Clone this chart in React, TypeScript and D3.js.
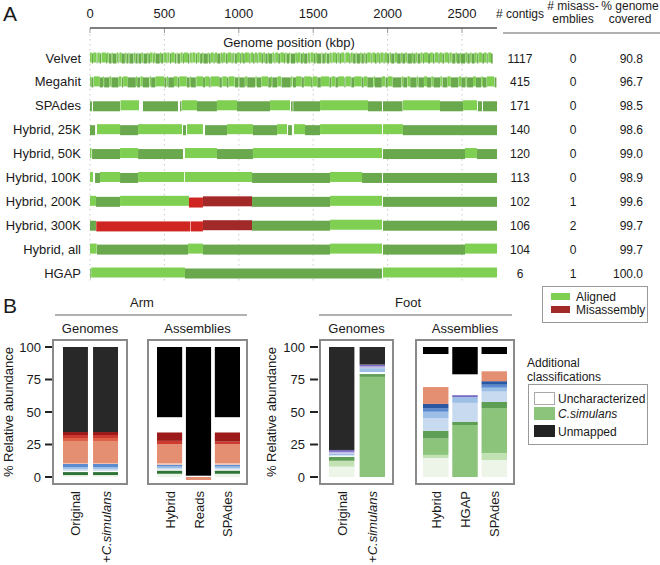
import React from "react";
import * as d3 from "d3";

const FONT = "'Liberation Sans', Arial, Helvetica, sans-serif";

// ---------- Panel A data ----------
const genomeTicks = [0, 500, 1000, 1500, 2000, 2500];
const genomeLengthKbp = 2735;
const assemblyNames = ["Velvet", "Megahit", "SPAdes", "Hybrid, 25K", "Hybrid, 50K", "Hybrid, 100K", "Hybrid, 200K", "Hybrid, 300K", "Hybrid, all", "HGAP"];
const contigCounts = ["1117", "415", "171", "140", "120", "113", "102", "106", "104", "6"];
const misassemblyCounts = ["0", "0", "0", "0", "0", "0", "1", "2", "0", "1"];
const genomeCovered = ["90.8", "96.7", "98.5", "98.6", "99.0", "98.9", "99.6", "99.7", "99.7", "100.0"];

type Seg = [number, number, string];
const L = "L", D = "D", R = "R", X = "X";

const velvetContigLengths = [
  12, 8, 22, 5, 14, 9, 30, 6, 11, 18, 7, 25, 10, 4, 16, 21, 8, 13, 6, 27,
  9, 15, 5, 19, 11, 24, 7, 12, 17, 6, 10, 28, 8, 14, 20, 5, 13, 9, 23, 11,
  6, 18, 15, 7, 26, 10, 12, 4, 21, 9, 16, 13, 8, 30, 6, 11, 19, 7, 14, 22,
  10, 5, 17, 12, 25, 8, 9, 15, 20, 6, 13, 11, 27, 7, 18, 10, 14, 5, 23, 9,
  12, 16, 8, 21, 11, 6, 19, 13, 24, 7, 10, 15, 9, 28, 12, 5, 17, 14, 8, 22,
  11, 6, 20, 13, 9, 26, 7, 16, 10, 18, 12, 5, 23, 8, 14, 11, 19, 6, 25, 9,
  13, 17, 7, 21, 10, 15, 8, 12, 24, 6, 18, 11, 14, 9, 20, 7, 16, 13, 10, 22,
  15, 24, 9, 18, 12, 30, 8, 16, 11, 20, 14, 7, 26, 13, 19, 10, 22, 9, 17, 12,
  25, 8, 15, 21, 11, 18, 6, 28, 13, 16, 10, 20, 14, 9, 23, 12, 17, 7, 19, 11,
];
const velvetGaps = [
  1, 0, 2, 1, 0, 3, 1, 0, 2, 1, 0, 1, 1, 3, 0, 2, 1, 0, 1, 2,
  2, 0, 1, 0, 3, 1, 1, 0, 2, 1, 1, 1, 0, 2, 0, 1, 3, 0, 1, 2,
  0, 2, 1, 1, 0, 3, 0, 1, 2, 1, 3, 0, 1, 0, 2, 1, 0, 2, 1, 1,
  1, 0, 2, 0, 1, 1, 3, 0, 1, 2, 0, 1, 2, 1, 0, 2, 1, 3, 0, 1,
  2, 1, 0, 1, 3, 0, 1, 1, 0, 2, 1, 0, 3, 1, 0, 1, 2, 0, 1, 2,
  0, 2, 1, 0, 1, 3, 0, 1, 2, 1, 1, 1, 0, 2, 1, 0, 3, 1, 0, 2,
  2, 0, 1, 1, 0, 2, 1, 0, 3, 1, 0, 1, 2, 0, 1, 1, 0, 3, 1, 2,
  1, 2, 0, 1, 3, 0, 1, 0, 2, 1, 2, 0, 1, 0, 1, 3, 1, 0, 1, 2,
  0, 1, 3, 1, 0, 2, 0, 1, 1, 2, 1, 0, 2, 1, 2, 0, 1, 3, 0, 1,
];
const megahitContigLengths = [
  8, 14, 40, 22, 6, 35, 12, 48, 18, 9, 30, 55, 7, 20, 16, 42, 10, 28, 60, 14,
  8, 38, 24, 11, 50, 19, 6, 33, 45, 13, 26, 9, 58, 17, 30, 12, 40, 22, 7, 36,
  15, 52, 10, 29, 44, 18, 8, 34, 25, 62, 11, 20, 38, 14, 47, 9, 31, 23, 56, 12,
  27, 16, 41, 8, 35, 19, 50, 13, 24, 39, 10, 46, 21, 15, 32, 58, 11, 26, 18, 43,
  9, 37, 20, 28, 14, 45, 12, 33, 22, 51, 16, 29, 8, 40, 19, 35, 11, 24, 48, 13,
];
const megahitGaps = [
  1, 2, 0, 1, 1, 0, 2, 1, 3, 0, 0, 1, 1, 2, 0, 3, 1, 0, 1, 2,
  2, 0, 1, 0, 1, 2, 0, 3, 1, 1, 1, 1, 0, 3, 0, 1, 2, 1, 0, 2,
  0, 2, 1, 1, 2, 0, 1, 0, 3, 1, 3, 0, 1, 2, 0, 1, 1, 0, 2, 1,
  1, 0, 2, 1, 3, 0, 1, 1, 0, 2, 0, 1, 3, 0, 1, 2, 0, 2, 1, 1,
  2, 1, 0, 1, 0, 1, 3, 0, 1, 2, 1, 0, 2, 0, 1, 1, 0, 2, 3, 1,
];

const spadesSegments: Seg[] = [[0, 13, D], [20, 202, D], [205, 329, L], [356, 591, D], [605, 615, D], [618, 719, L], [719, 853, D], [853, 988, L], [988, 1210, D], [1210, 1344, L], [1351, 1362, D], [1366, 1546, D], [1546, 1868, L], [1868, 1962, D], [1969, 2100, D], [2103, 2352, L], [2352, 2507, D], [2507, 2601, L], [2607, 2634, D], [2641, 2735, D]];
const hybrid25Segments: Seg[] = [[0, 34, D], [47, 202, L], [202, 323, D], [323, 618, L], [625, 645, D], [652, 759, L], [773, 921, D], [921, 1095, L], [1095, 1257, D], [1257, 1324, L], [1331, 1357, D], [1371, 1445, L], [1445, 1546, D], [1546, 1962, L], [1969, 2103, L], [2103, 2735, D]];
const hybrid50Segments: Seg[] = [[0, 10, L], [14, 202, D], [202, 323, L], [323, 625, D], [638, 853, L], [853, 1095, D], [1095, 1962, L], [1969, 2520, D], [2520, 2600, L], [2600, 2735, D]];
const hybrid100Segments: Seg[] = [[0, 20, L], [34, 67, D], [67, 202, L], [202, 323, D], [323, 632, L], [638, 1089, L], [1089, 1613, D], [1613, 1828, L], [1828, 1962, D], [1969, 2735, D]];
const hybrid200Segments: Seg[] = [[0, 40, L], [40, 202, D], [202, 665, L], [665, 759, R], [759, 1089, X], [1089, 1613, D], [1613, 1962, L], [1969, 2735, D]];
const hybrid300Segments: Seg[] = [[0, 40, D], [42, 672, R], [676, 759, R], [759, 1089, X], [1089, 1613, D], [1613, 1962, L], [1969, 2735, D]];
const hybridAllSegments: Seg[] = [[0, 45, L], [47, 659, D], [659, 759, L], [759, 1613, D], [1613, 1962, L], [1969, 2520, D], [2520, 2735, L]];
const hgapSegments: Seg[] = [[0, 5, D], [8, 638, L], [638, 1962, D], [1969, 2735, L]];

// ---------- Panel B data ----------
const abundanceCategories = ["vlg", "lg", "csim", "mg", "dg", "gap", "paleBlue", "lightBlue", "blue", "darkBlue", "lavender", "purple", "lightSalmon", "salmon", "redOrange", "red", "darkRed", "uncharacterized", "unmappedGenome", "unmappedAssembly"];
const abundanceColors = ["#edf5e8", "#c3e2b4", "#8cc47c", "#5f9f55", "#2f7336", "#ffffff", "#c8daf0", "#9dbfe6", "#5a8bd0", "#2b57a0", "#c2bce6", "#7a6cc2", "#f1c1ae", "#e58f72", "#df5f48", "#cc3a30", "#9d1a1a", "#ffffff", "#282828", "#000000"];

//                  vlg  lg  csim  mg   dg  gap  pB   lB   bl  dB  lav  pur  lS   sal  rO   red  dR   unc  unG   unA
const armOriginal = [1.5, 0, 0, 0, 2.3, 1.0, 1.4, 1.5, 2.3, 0, 0, 0, 0.8, 16.9, 2.3, 2.3, 2.3, 0, 65.4, 0];
const armCsimulans = [1.5, 0, 0, 0, 2.3, 1.0, 1.4, 1.5, 2.3, 0, 0, 0, 0.8, 16.9, 2.3, 2.3, 2.3, 0, 65.4, 0];
const armHybrid = [2.5, 0, 0, 0, 2.5, 0.8, 1.0, 1.3, 1.3, 0, 0, 0, 1.2, 14.6, 0, 2.6, 6.6, 11.6, 0, 54];
const armReads = [0, 0, 0, 0, 0, 0, 0, 0, 0, 0, 0, 0, 0, 2.3, 0, 0, 0, 1.0, 0, 99];
const armSpades = [2.5, 0, 0, 0, 2.5, 0.8, 1.0, 1.3, 1.3, 0, 0, 0, 1.2, 14.6, 0, 2.0, 7.2, 11.6, 0, 54];
const footOriginal = [8, 4.5, 0, 3.1, 0, 1, 0, 1.4, 0, 0, 1.3, 1.5, 0, 0, 0, 0, 0, 0, 79.2, 0];
const footCsimulans = [0, 0, 77, 2.2, 0, 1.5, 0, 3, 0, 0, 1.3, 1.5, 0, 0, 0, 0, 0, 0, 13.5, 0];
const footHybrid = [14.6, 2.4, 12.6, 6, 0, 0, 9.6, 5, 2.5, 3.5, 0, 0, 0, 13, 0, 0, 0, 25.4, 0, 5.4];
const footHgap = [0, 0, 40, 2.5, 0, 0, 14.5, 4.5, 0, 0, 0, 1.5, 0, 0, 0, 0, 0, 16, 0, 21];
const footSpades = [13, 5.5, 34.5, 4.7, 0, 0, 8, 3, 2.3, 2.7, 0, 0, 0, 7.7, 0, 0, 0, 13.2, 0, 5.4];
const readsBaseline = -2.3;
const abundanceTicks = [0, 25, 50, 75, 100];

const segColors: Record<string, string> = { L: "#7ecf52", D: "#69a84d", R: "#d02622", X: "#a12a28" };
const segTop: Record<string, number> = { L: -5.5, D: -4.5, R: -3.8, X: -5 };

function contigsFromLengths(lengths: number[], gaps: number[]): Seg[] {
  const out: Seg[] = [];
  let pos = 0;
  lengths.forEach((len, i) => {
    out.push([pos, pos + len, i % 2 === 0 ? L : D]);
    pos += len + (gaps[i] ?? 0);
  });
  return out;
}

const C = "#1a1a1a";

export default function App() {
  const x = d3.scaleLinear().domain([0, genomeLengthKbp]).range([90, 497]);
  const rowY = d3.scalePoint<string>().domain(assemblyNames).range([58, 273]);
  const rows: Seg[][] = [
    contigsFromLengths(velvetContigLengths, velvetGaps),
    contigsFromLengths(megahitContigLengths, megahitGaps),
    spadesSegments, hybrid25Segments, hybrid50Segments, hybrid100Segments,
    hybrid200Segments, hybrid300Segments, hybridAllSegments, hgapSegments,
  ];

  const yB = d3.scaleLinear().domain([0, 100]).range([477, 347]);

  const groups = [
    { title: "Genomes", box: [53, 127], range: [63, 118], labels: ["Original", "+C.simulans"], bars: [armOriginal, armCsimulans], bases: [0, 0] },
    { title: "Assemblies", box: [148, 247], range: [157, 240], labels: ["Hybrid", "Reads", "SPAdes"], bars: [armHybrid, armReads, armSpades], bases: [0, readsBaseline, 0] },
    { title: "Genomes", box: [320, 393], range: [329, 385], labels: ["Original", "+C.simulans"], bars: [footOriginal, footCsimulans], bases: [0, 0] },
    { title: "Assemblies", box: [416, 514], range: [423, 507], labels: ["Hybrid", "HGAP", "SPAdes"], bars: [footHybrid, footHgap, footSpades], bases: [0, 0, 0] },
  ];

  const stack = d3.stack<any>().keys(abundanceCategories);

  const yAxisB = (axisX: number, labelX: number, titleX: number, key: string) => (
    <g key={key}>
      {abundanceTicks.map((t) => (
        <g key={t}>
          <line x1={axisX} x2={axisX + 8} y1={yB(t)} y2={yB(t)} stroke="#222" strokeWidth={2} />
          <text x={labelX} y={yB(t) + 4.5} textAnchor="end" fontSize={13} fill={C}>{t}</text>
        </g>
      ))}
      <text transform={`translate(${titleX},${yB(50)}) rotate(-90)`} textAnchor="middle" fontSize={13} fill={C}>% Relative abundance</text>
    </g>
  );

  return (
    <svg width={660} height={565} style={{ position: "absolute", left: 0, top: 0 }} fontFamily={FONT}>
      <rect width={660} height={565} fill="#fff" />
      {/* Panel A */}
      <text x={3} y={21} fontSize={21} fill={C}>A</text>
      {genomeTicks.map((t) => (
        <g key={t}>
          <text x={x(t)} y={18} textAnchor="middle" fontSize={13} fill={C}>{t}</text>
          <line x1={x(t)} x2={x(t)} y1={28} y2={33} stroke="#999" strokeWidth={1} />
          <line x1={x(t)} x2={x(t)} y1={34} y2={284} stroke="#c9c9c9" strokeWidth={1} strokeDasharray="1.5,3.5" />
        </g>
      ))}
      <line x1={x(0)} x2={x(genomeLengthKbp)} y1={28} y2={28} stroke="#555" strokeWidth={1.3} />
      <rect x={220} y={36} width={138} height={14} fill="#fff" />
      <text x={289} y={47} textAnchor="middle" fontSize={13} fill={C}>Genome position (kbp)</text>

      {assemblyNames.map((name, i) => {
        const cy = rowY(name) as number;
        return (
          <g key={name}>
            <text x={81} y={cy + 4.5} textAnchor="end" fontSize={13} fill={C}>{name}</text>
            {rows[i].map((s, j) => {
              const x0 = x(Math.min(s[0], genomeLengthKbp));
              const x1 = x(Math.min(s[1], genomeLengthKbp));
              if (x1 <= x0) return null;
              return <rect key={j} x={x0} y={cy + segTop[s[2]]} width={x1 - x0} height={10} fill={segColors[s[2]]} />;
            })}
            <text x={520} y={cy + 4.5} textAnchor="middle" fontSize={12} fill={C}>{contigCounts[i]}</text>
            <text x={573} y={cy + 4.5} textAnchor="middle" fontSize={12} fill={C}>{misassemblyCounts[i]}</text>
            <text x={643} y={cy + 4.5} textAnchor="end" fontSize={12} fill={C}>{genomeCovered[i]}</text>
          </g>
        );
      })}
      <text x={520} y={18} textAnchor="middle" fontSize={12} fill={C}># contigs</text>
      <text x={573} y={10} textAnchor="middle" fontSize={12} fill={C}># misass-</text>
      <text x={573} y={23} textAnchor="middle" fontSize={12} fill={C}>emblies</text>
      <text x={630} y={10} textAnchor="middle" fontSize={12} fill={C}>% genome</text>
      <text x={630} y={23} textAnchor="middle" fontSize={12} fill={C}>covered</text>
      <line x1={503} x2={660} y1={33} y2={33} stroke="#999" strokeWidth={1.5} />

      {/* Legend A */}
      <rect x={542.5} y={286.5} width={105} height={36} fill="#fff" stroke="#999" strokeWidth={1} />
      <rect x={551} y={293} width={19} height={7} fill={segColors.L} />
      <rect x={551} y={306} width={19} height={7} fill={segColors.X} />
      <text x={576} y={300.5} fontSize={12} fill={C}>Aligned</text>
      <text x={576} y={313.5} fontSize={12} fill={C}>Misassembly</text>

      {/* Panel B */}
      <text x={3} y={313} fontSize={21} fill={C}>B</text>
      <text x={142} y={307} textAnchor="middle" fontSize={13} fill={C}>Arm</text>
      <line x1={55} x2={247} y1={315} y2={315} stroke="#999" strokeWidth={1.5} />
      <text x={408} y={307} textAnchor="middle" fontSize={13} fill={C}>Foot</text>
      <line x1={319} x2={512} y1={315} y2={315} stroke="#999" strokeWidth={1.5} />
      {yAxisB(45, 41, 13, "armAxis")}
      {yAxisB(310, 305, 276, "footAxis")}

      {groups.map((g, gi) => {
        const band = d3.scaleBand<string>().domain(g.labels).range(g.range as [number, number]).paddingInner(gi % 2 === 0 ? 0.17 : 0.13);
        const rowsData = g.bars.map((vals) => {
          const o: any = {};
          abundanceCategories.forEach((c, k) => (o[c] = vals[k]));
          return o;
        });
        const series = stack(rowsData);
        return (
          <g key={gi}>
            <text x={(g.box[0] + g.box[1]) / 2} y={333} textAnchor="middle" fontSize={13} fill={C}>{g.title}</text>
            <rect x={g.box[0]} y={340} width={g.box[1] - g.box[0]} height={144} fill="#fff" stroke="#8a8a8a" strokeWidth={2} />
            {series.map((s, k) =>
              s.map((d, b) => {
                const v0 = d[0] + g.bases[b];
                const v1 = d[1] + g.bases[b];
                if (v1 - v0 <= 0) return null;
                return (
                  <rect key={`${k}-${b}`} x={band(g.labels[b])} width={band.bandwidth()} y={yB(v1)} height={yB(v0) - yB(v1)} fill={abundanceColors[k]} />
                );
              })
            )}
            {g.labels.map((lab) => {
              const cx = (band(lab) as number) + band.bandwidth() / 2 + 5;
              return (
                <text key={lab} transform={`translate(${cx},491) rotate(-90)`} textAnchor="end" fontSize={13} fill={C}>
                  {lab.startsWith("+") ? (<><tspan>+</tspan><tspan fontStyle="italic">{lab.slice(1)}</tspan></>) : lab}
                </text>
              );
            })}
          </g>
        );
      })}

      {/* Legend B */}
      <text x={527} y={367} fontSize={12} fill={C}>Additional</text>
      <text x={527} y={381} fontSize={12} fill={C}>classifications</text>
      <rect x={528.5} y={384.5} width={119} height={60} fill="#fff" stroke="#999" strokeWidth={1} />
      <rect x={534.5} y={392.5} width={20} height={12} fill="#fff" stroke="#aaa" strokeWidth={1} />
      <rect x={534} y={407} width={21} height={13} fill={abundanceColors[2]} />
      <rect x={534} y={425} width={21} height={12} fill="#222" />
      <text x={558} y={402.5} fontSize={12} fill={C}>Uncharacterized</text>
      <text x={558} y={417.5} fontSize={12} fill={C} fontStyle="italic">C.simulans</text>
      <text x={558} y={435.5} fontSize={12} fill={C}>Unmapped</text>
    </svg>
  );
}
